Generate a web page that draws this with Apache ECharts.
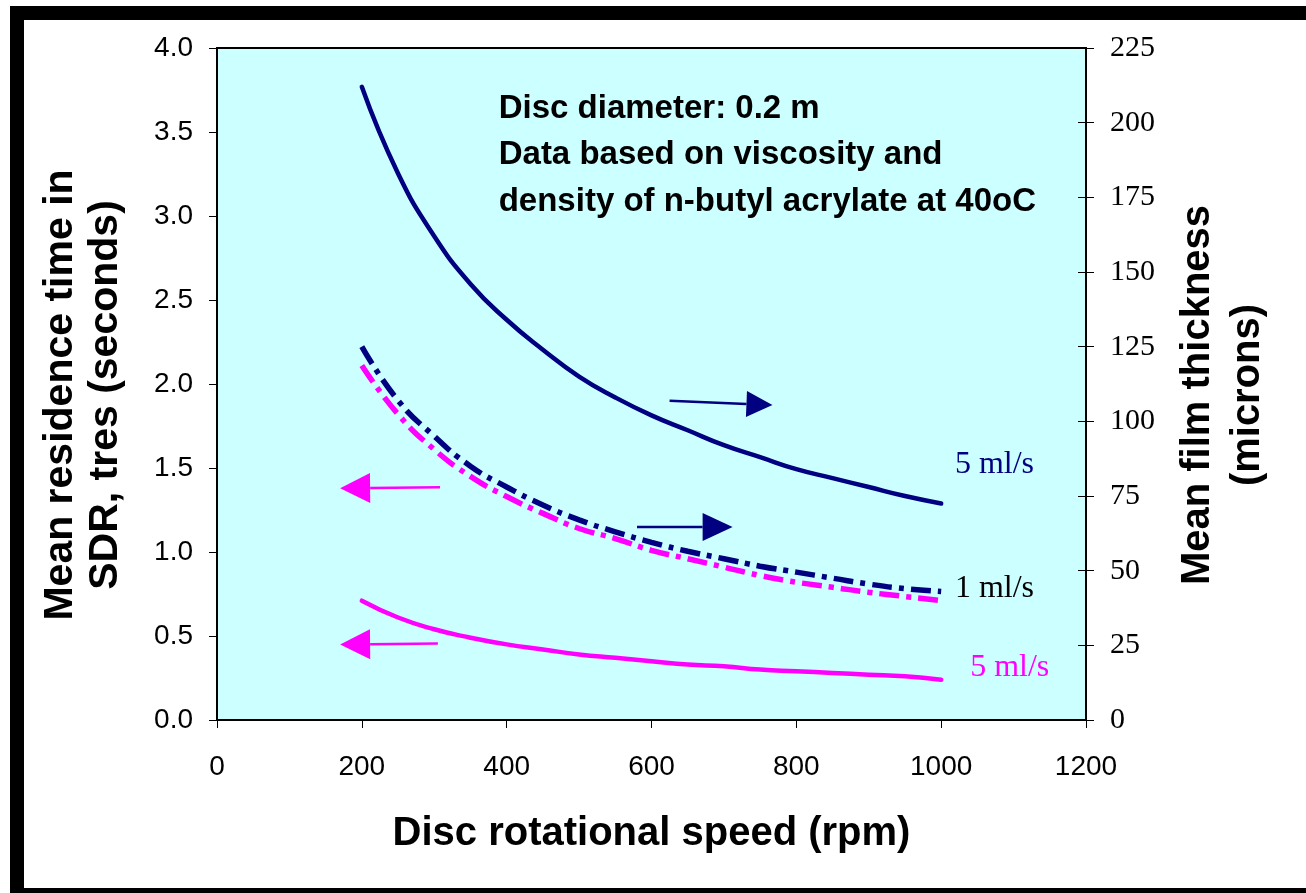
<!DOCTYPE html>
<html>
<head>
<meta charset="utf-8">
<script src="https://cdn.jsdelivr.net/npm/echarts@6/dist/echarts.min.js"></script>
<style>
html,body{margin:0;padding:0;background:#fff;}
#c{width:1306px;height:893px;}
</style>
</head>
<body>
<div id="c"></div>
<script>
// ---- data ----
const rpm    = [200,250,300,350,400,450,500,550,600,650,700,750,800,850,900,950,1000];
const film5  = [212,183,162,146,134,124,115,108,102,97,92,88,84,81,78,75,72.5];
const film1  = [125,107,95,85,78,72,67,63,59.5,56.5,54,51.5,49.5,47.5,45.5,44,43];
const tres1  = [2.11,1.82,1.61,1.45,1.33,1.23,1.14,1.08,1.01,0.96,0.91,0.86,0.82,0.79,0.76,0.735,0.71];
const tres5  = [0.71,0.61,0.54,0.49,0.45,0.42,0.39,0.37,0.35,0.33,0.32,0.30,0.29,0.28,0.27,0.26,0.24];
const xRange = [0,1200,200];
const yLeftRange  = [0,4,0.5];
const yRightRange = [0,225,25];
const noteLines = ['Disc diameter: 0.2 m','Data based on viscosity and','density of n-butyl acrylate at 40oC'];
const seriesLabels = ['5 ml/s','1 ml/s','5 ml/s'];

const NAVY = '#000080', MAG = '#FF00FF';
const pair = (xs, ys) => xs.map((x,i)=>[x, ys[i]]);
const dashDot = [20,7,5,7];

const chart = echarts.init(document.getElementById('c'), null, {renderer:'canvas'});

const sans = '"Liberation Sans", Arial, sans-serif';
const serif = '"Liberation Serif", "Times New Roman", serif';

chart.setOption({
  animation:false,
  backgroundColor:'#ffffff',
  grid:{left:217, right:220, top:48, bottom:173, show:true, backgroundColor:'#CCFFFF', borderColor:'#000', borderWidth:2},
  xAxis:{
    type:'value', min:xRange[0], max:xRange[1], interval:xRange[2],
    name:'Disc rotational speed (rpm)', nameLocation:'middle', nameGap:94,
    nameTextStyle:{fontFamily:sans, fontWeight:'bold', fontSize:40, color:'#000'},
    axisLine:{show:true, lineStyle:{color:'#000', width:2}},
    axisTick:{show:true, inside:false, length:8, lineStyle:{color:'#000', width:1}},
    axisLabel:{fontFamily:sans, fontSize:28, color:'#000', margin:33, formatter:v=>String(v)},
    splitLine:{show:false}
  },
  yAxis:[
    {
      type:'value', position:'left', min:yLeftRange[0], max:yLeftRange[1], interval:yLeftRange[2],
      name:'Mean residence time in\nSDR, tres (seconds)', nameLocation:'middle', nameGap:89, nameRotate:90,
      nameTextStyle:{fontFamily:sans, fontWeight:'bold', fontSize:41, color:'#000', lineHeight:45, padding:[0,22,0,0]},
      axisLine:{show:true, lineStyle:{color:'#000', width:2}},
      axisTick:{show:true, length:8, lineStyle:{color:'#000', width:1}},
      axisLabel:{fontFamily:sans, fontSize:28, color:'#000', margin:24, formatter:v=>v.toFixed(1)},
      splitLine:{show:false}
    },
    {
      type:'value', position:'right', min:yRightRange[0], max:yRightRange[1], interval:yRightRange[2],
      name:'Mean film thickness\n(microns)', nameLocation:'middle', nameGap:87, nameRotate:90,
      nameTextStyle:{fontFamily:sans, fontWeight:'bold', fontSize:40, color:'#000', lineHeight:50, padding:[0,22,0,0]},
      axisLine:{show:true, lineStyle:{color:'#000', width:2}},
      axisTick:{show:true, length:8, lineStyle:{color:'#000', width:1}},
      axisLabel:{fontFamily:serif, fontSize:30, color:'#000', margin:24},
      splitLine:{show:false}
    },
    {
      type:'value', position:'right', min:yRightRange[0], max:yRightRange[1], interval:yRightRange[2],
      axisLine:{show:false}, axisLabel:{show:false}, splitLine:{show:false},
      axisTick:{show:true, inside:true, length:8, lineStyle:{color:'#000', width:1}}
    }
  ],
  series:[
    {name:'tres 1 ml/s', type:'line', yAxisIndex:0, data:pair(rpm,tres1), smooth:true, showSymbol:false,
     lineStyle:{color:MAG, width:5.5, type:dashDot}},
    {name:'film 1 ml/s', type:'line', yAxisIndex:1, data:pair(rpm,film1), smooth:true, showSymbol:false,
     lineStyle:{color:NAVY, width:5.5, type:dashDot}},
    {name:'tres 5 ml/s', type:'line', yAxisIndex:0, data:pair(rpm,tres5), smooth:true, showSymbol:false,
     lineStyle:{color:MAG, width:4.5, cap:'round'}},
    {name:'film 5 ml/s', type:'line', yAxisIndex:1, data:pair(rpm,film5), smooth:true, showSymbol:false,
     lineStyle:{color:NAVY, width:4.5, cap:'round'}}
  ]
});

// ---- annotations, placed in data coordinates ----
const P = (x, yl) => chart.convertToPixel({xAxisIndex:0, yAxisIndex:0}, [x, yl]);
function arrow(from, to, color, headLen, headHalf){
  const a = P(from[0],from[1]), b = P(to[0],to[1]);
  const dx=b[0]-a[0], dy=b[1]-a[1], L=Math.hypot(dx,dy), ux=dx/L, uy=dy/L;
  const base=[b[0]-ux*headLen, b[1]-uy*headLen];
  return [
    {type:'line', shape:{x1:a[0],y1:a[1],x2:base[0],y2:base[1]}, style:{stroke:color, lineWidth:2.5}},
    {type:'polygon', shape:{points:[[b[0],b[1]],[base[0]-uy*headHalf, base[1]+ux*headHalf],[base[0]+uy*headHalf, base[1]-ux*headHalf]]}, style:{fill:color}}
  ];
}
const g = [];
g.push({type:'rect', shape:{x:17,y:13,width:1320,height:882}, style:{fill:null, stroke:'#000', lineWidth:14}, silent:true, z:100});
g.push(...arrow([625,1.90],[767,1.875],NAVY,26,13));
g.push(...arrow([580,1.149],[712,1.149],NAVY,30,14));
g.push(...arrow([308,1.385],[170,1.38],MAG,30,15));
g.push(...arrow([305,0.455],[170,0.45],MAG,30,15));
const notePos = P(389, 3.64);
noteLines.forEach((t,i)=>{
  g.push({type:'text', x:notePos[0], y:notePos[1]+i*46.5, style:{text:t, font:'bold 33px '+sans, fill:'#000', textVerticalAlign:'middle'}});
});
[[seriesLabels[0], NAVY, 1019, 1.52],[seriesLabels[1], '#000', 1019, 0.78],[seriesLabels[2], MAG, 1040, 0.31]].forEach(([t,c,x,y])=>{
  const p = P(x,y);
  g.push({type:'text', x:p[0], y:p[1], style:{text:t, font:'32px '+serif, fill:c, textVerticalAlign:'middle'}});
});
chart.setOption({graphic:g});
</script>
</body>
</html>
